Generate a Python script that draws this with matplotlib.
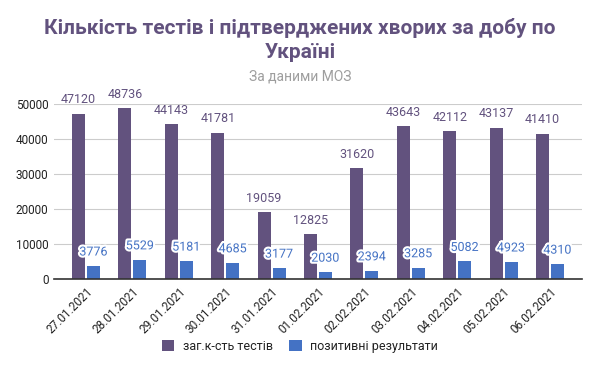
import matplotlib.pyplot as plt
import matplotlib.patheffects as pe
import numpy as np

# Data
dates = ['27.01.2021', '28.01.2021', '29.01.2021', '30.01.2021', '31.01.2021', '01.02.2021',
         '02.02.2021', '03.02.2021', '04.02.2021', '05.02.2021', '06.02.2021']
tests = [47120, 48736, 44143, 41781, 19059, 12825, 31620, 43643, 42112, 43137, 41410]
positive = [3776, 5529, 5181, 4685, 3177, 2030, 2394, 3285, 5082, 4923, 4310]

PURPLE = '#62527e'
BLUE = '#4472c4'

plt.rcParams['font.family'] = ['Roboto', 'DejaVu Sans']

fig = plt.figure(figsize=(6, 3.71), dpi=100)
ax = fig.add_axes([0.09, 0.2472, 0.88, 0.4733])

x = np.arange(len(dates))
w = 0.28
off = 0.16
bars1 = ax.bar(x - off, tests, w, color=PURPLE, label='заг.к-сть тестів', zorder=3)
bars2 = ax.bar(x + off, positive, w, color=BLUE, label='позитивні результати', zorder=3)

# value labels above each bar top
for b, v in zip(bars1, tests):
    ax.annotate(str(v), (b.get_x() + b.get_width() / 2, v), xytext=(0, 14),
                textcoords='offset pixels', ha='center', va='center',
                fontsize=9, color=PURPLE, zorder=4)
for b, v in zip(bars2, positive):
    ax.annotate(str(v), (b.get_x() + b.get_width() / 2, v), xytext=(0, 14),
                textcoords='offset pixels', ha='center', va='center',
                fontsize=9, color=BLUE, zorder=4,
                path_effects=[pe.withStroke(linewidth=3, foreground='white')])

ax.set_ylim(0, 50000)
ax.set_xlim(-0.69, 10.69)
ax.set_yticks(range(0, 50001, 10000))
ax.set_xticks(x)
ax.set_xticklabels(dates, rotation=45, ha='right', rotation_mode='anchor', fontsize=8.5, color='#222222')
ax.tick_params(axis='y', length=0, labelsize=8.5, labelcolor='#222222', pad=4)
ax.tick_params(axis='x', length=0, pad=4)
ax.grid(axis='y', color='#cccccc', linewidth=0.8, zorder=0)
for s in ['top', 'right', 'left']:
    ax.spines[s].set_visible(False)
ax.spines['bottom'].set_color('#333333')
ax.spines['bottom'].set_linewidth(1.2)
ax.spines['bottom'].set_zorder(5)

fig.text(0.5, 0.892, 'Кількість тестів і підтверджених хворих за добу по\nУкраїні',
         ha='center', va='center', fontsize=15, fontweight='bold', color=PURPLE, linespacing=1.3)
fig.text(0.5, 0.793, 'За даними МОЗ', ha='center', va='center', fontsize=10, color='#9e9e9e')

fig.legend(loc='center', bbox_to_anchor=(0.5, 0.067), ncol=2, frameon=False, fontsize=9,
           handlelength=1.0, handleheight=1.0, handletextpad=0.7, columnspacing=1.3,
           labelcolor='#222222')

plt.savefig('out.png', dpi=100)
